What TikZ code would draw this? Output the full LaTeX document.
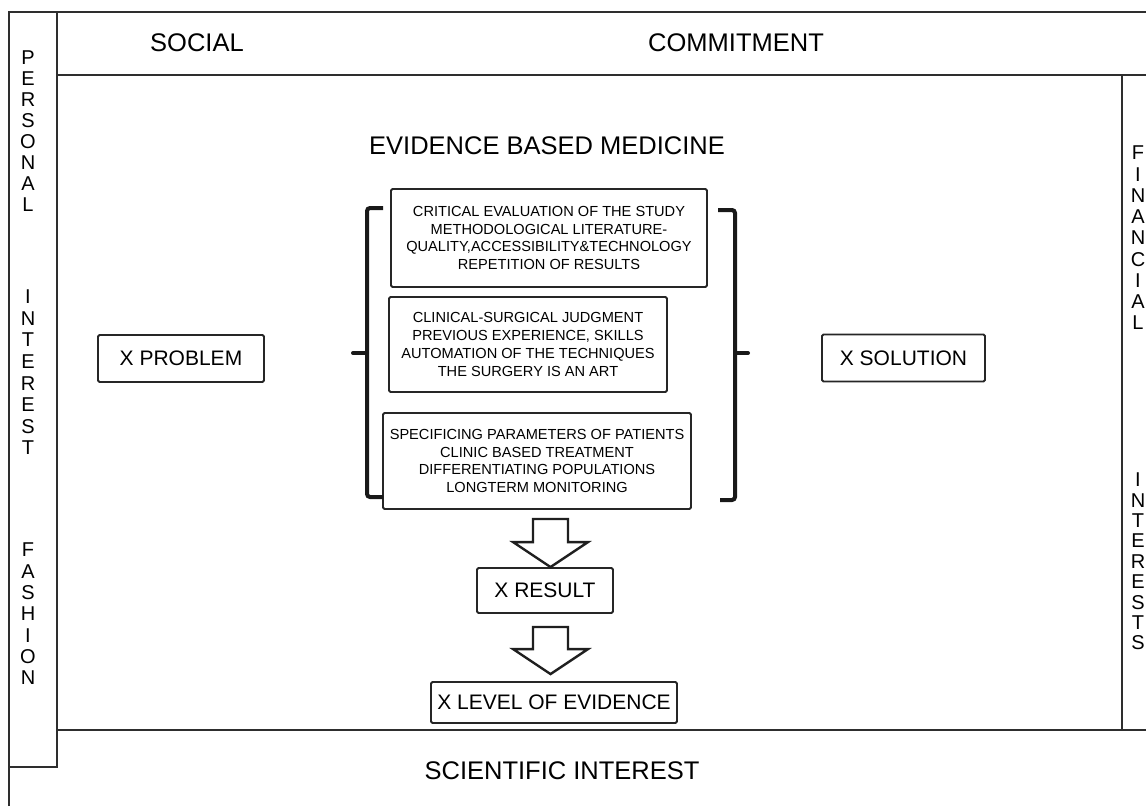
\documentclass[tikz,border=0pt]{standalone}
\usepackage{fontspec}
\setmainfont{Liberation Sans}
\usetikzlibrary{calc}
\begin{document}
\begin{tikzpicture}[x=1pt,y=-1pt,
  frame/.style={line width=1.9pt, draw=black!82},
  heading/.style={font=\fontsize{25.5}{30}\selectfont, inner sep=0pt},
  vlabel/.style={align=center, inner sep=0pt},
  listbox/.style={draw=black!85, line width=1.9pt, rounded corners=1.5pt, inner sep=0pt,
    align=center, font=\fontsize{14.6}{17.7}\selectfont},
  xbox/.style={draw=black!85, line width=1.9pt, rounded corners=1.5pt, inner sep=0pt,
    font=\fontsize{21}{25}\selectfont},
  bracket/.style={line width=4pt, draw=black!90, rounded corners=3pt},
  blockarrow/.style={draw=black!88, line width=2.4pt, line join=miter, fill=white}]
\useasboundingbox (0,0) rectangle (1146,806);

% outer frame
\draw[frame] (9,806) -- (9,12) -- (1146,12);
\draw[frame] (57,12) -- (57,767) -- (9,767);
\draw[frame] (57,75) -- (1146,75);
\draw[frame] (1122,75) -- (1122,730);
\draw[frame] (57,730) -- (1146,730);

% band headings
\node[heading] (social) at (197,43) {SOCIAL};
\node[heading] (commit) at (736,43) {COMMITMENT};
\node[heading] (ebm) at (547,146) {EVIDENCE BASED MEDICINE};
\node[heading] (sci) at (562,771) {SCIENTIFIC INTEREST};

% vertical side labels
\node[vlabel, font=\fontsize{20}{21.1}\selectfont] (personal) at (28,131) {P\\E\\R\\S\\O\\N\\A\\L};
\node[vlabel, font=\fontsize{20}{21.6}\selectfont] (interest) at (28,372.5) {I\\N\\T\\E\\R\\E\\S\\T};
\node[vlabel, font=\fontsize{20}{21.3}\selectfont] (fashion) at (28,614) {F\\A\\S\\H\\I\\O\\N};
\node[vlabel, font=\fontsize{20}{21.25}\selectfont] (financial) at (1138,238) {F\\I\\N\\A\\N\\C\\I\\A\\L};
\node[vlabel, font=\fontsize{20}{20.4}\selectfont] (interests) at (1138,561.5) {I\\N\\T\\E\\R\\E\\S\\T\\S};

% evidence boxes
\node[listbox, minimum width=316pt, minimum height=98pt] (crit) at (549,238)
  {CRITICAL EVALUATION OF THE STUDY\\METHODOLOGICAL LITERATURE-\\QUALITY,ACCESSIBILITY\&TECHNOLOGY\\REPETITION OF RESULTS};
\node[listbox, minimum width=278pt, minimum height=95pt] (clin) at (528,344.5)
  {CLINICAL-SURGICAL JUDGMENT\\PREVIOUS EXPERIENCE, SKILLS\\AUTOMATION OF THE TECHNIQUES\\THE SURGERY IS AN ART};
\node[listbox, minimum width=308pt, minimum height=96pt] (spec) at (537,461)
  {SPECIFICING PARAMETERS OF PATIENTS\\CLINIC BASED TREATMENT\\DIFFERENTIATING POPULATIONS\\LONGTERM MONITORING};

% problem, solution, result, level
\node[xbox, minimum width=166pt, minimum height=47pt] (prob) at (181,358.5) {X PROBLEM};
\node[xbox, minimum width=163pt, minimum height=47pt] (sol) at (903.5,358) {X SOLUTION};
\node[xbox, minimum width=136pt, minimum height=45pt] (res) at (545,590.5) {X RESULT};
\node[xbox, minimum width=246pt, minimum height=41pt] (lev) at (554,702.5) {X LEVEL OF EVIDENCE};

% braces around the three boxes
\draw[bracket] (383,208) -- (367,208) -- (367,497) -- (383,497);
\draw[line width=4pt, draw=black!90, line cap=round] (367,353) -- (353,353);
\draw[bracket] (718,210) -- (735,210) -- (735,500) -- (720,500);
\draw[line width=4pt, draw=black!90, line cap=round] (735,353) -- (748,353);

% hollow block arrows
\coordinate (a1top) at ($(spec.south)+(13.5,9)$);
\coordinate (a1tip) at ($(res.north)+(5.5,0)$);
\coordinate (a2top) at ($(res.south)+(5.5,13)$);
\coordinate (a2tip) at ($(lev.north)+(-3.5,-7)$);
\foreach \t/\p in {a1top/a1tip, a2top/a2tip}{
  \draw[blockarrow]
    ($(\t)+(-17.5,0)$) -- ($(\t)+(17.5,0)$) -- ($(\p)+(17.5,-25)$) -- ($(\p)+(37.5,-25)$)
    -- (\p) -- ($(\p)+(-37.5,-25)$) -- ($(\p)+(-17.5,-25)$) -- cycle;
}
\end{tikzpicture}
\end{document}
